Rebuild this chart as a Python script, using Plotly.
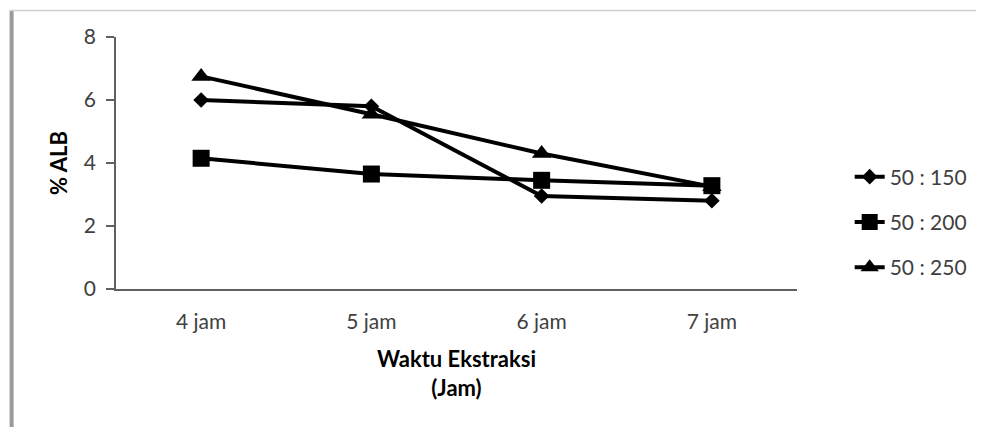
import plotly.graph_objects as go

categories = ["4 jam", "5 jam", "6 jam", "7 jam"]
s150 = [6.0, 5.8, 2.95, 2.8]
s200 = [4.15, 3.65, 3.45, 3.28]
s250 = [6.75, 5.55, 4.3, 3.25]
series_names = ["50 : 150", "50 : 200", "50 : 250"]
y_ticks = [0, 2, 4, 6, 8]

# page has an 8px body margin, so the figure is sized to fit the window
W, H = 976, 419
L, R, T, B = 108, 183, 29, 138
pw, ph = W - L - R, H - T - B


def px(x):
    return (x - L) / pw


def py(y):
    return (H - B - y) / ph


FONT = "Lato"

fig = go.Figure()
specs = [(s150, "diamond", 12), (s200, "square", 17), (s250, "triangle-up", 17)]
for name, (vals, sym, sz) in zip(series_names, specs):
    fig.add_trace(go.Scatter(
        x=categories, y=vals, name=name, mode="lines+markers",
        line=dict(color="black", width=4),
        marker=dict(symbol=sym, size=sz, color="black"),
        legendgroup=name,
    ))

fig.update_layout(
    width=W, height=H,
    margin=dict(l=L, r=R, t=T, b=B),
    paper_bgcolor="white", plot_bgcolor="white",
    font=dict(family=FONT, size=21, color="#404040"),
    showlegend=True,
    legend=dict(
        x=px(846), y=py(214), xanchor="left", yanchor="middle",
        font=dict(family=FONT, size=21, color="#404040"),
        tracegroupgap=15, bgcolor="rgba(0,0,0,0)",
    ),
    xaxis=dict(
        type="category", range=[-0.5, 3.5],
        showgrid=False, showline=True, linecolor="#606060", linewidth=1.5,
        ticks="", tickfont=dict(size=21, color="#404040"), ticklabelstandoff=13,
        title=dict(text="Waktu Ekstraksi<br>(Jam)",
                   font=dict(family=FONT, size=22, color="black", weight="bold"), standoff=20),
        zeroline=False,
    ),
    yaxis=dict(
        range=[0, 8], tickvals=y_ticks,
        showgrid=False, showline=True, linecolor="#606060", linewidth=1.5,
        ticks="outside", ticklen=8, tickcolor="#606060", tickwidth=1.5,
        tickfont=dict(size=21, color="#404040"), ticklabelstandoff=6,
        title=dict(text="% ALB", font=dict(family=FONT, size=22, color="black", weight="bold"), standoff=10),
        zeroline=False,
    ),
)

# frame borders of the original picture (left and top edges)
fig.add_shape(type="line", xref="paper", yref="paper",
              x0=px(3), x1=px(3), y0=py(2), y1=py(H),
              line=dict(color="#9a9a9a", width=4))
fig.add_shape(type="line", xref="paper", yref="paper",
              x0=px(1), x1=px(W), y0=py(2.5), y1=py(2.5),
              line=dict(color="#cfcfcf", width=1.5))

fig.write_html("out.html")
